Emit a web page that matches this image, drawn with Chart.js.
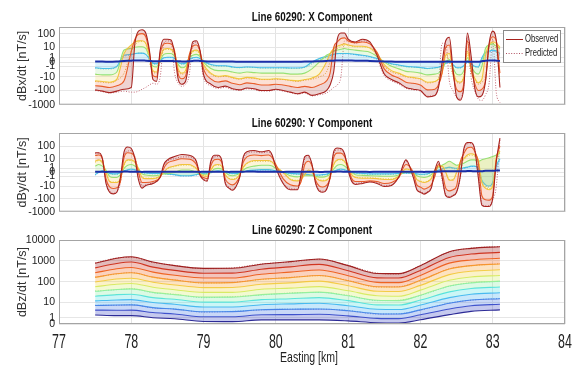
<!DOCTYPE html>
<html><head><meta charset="utf-8">
<script src="https://cdn.jsdelivr.net/npm/chart.js@4.4.0/dist/chart.umd.min.js"></script>
<style>
html,body{margin:0;padding:0;background:#fff;}
#wrap{position:relative;width:574px;height:368px;overflow:hidden;background:#fff;}
canvas{position:absolute;left:0;}
</style></head><body>
<div id="wrap">
<canvas id="c1" style="top:0px" width="574" height="115"></canvas>
<canvas id="c2" style="top:115px" width="574" height="107"></canvas>
<canvas id="c3" style="top:222px" width="574" height="146"></canvas>
</div>
<script>
// ---------- tick labels ----------
const xyTickValues = [100, 10, 1, 0, -1, -10, -100, -1000];
const xyTickLabels = ['100', '10', '1', '0', '-1', '-10', '-100', '-1000'];
const zTickValues = [10000, 1000, 100, 10, 1, 0];
const zTickLabels = ['10000', '1000', '100', '10', '1', '0'];
const eastingTicks = [77, 78, 79, 80, 81, 82, 83, 84];

// ---------- X component (nT/s), channels early -> late ----------
const eastingX = [
 77.5,77.6,77.7,77.8,77.9,78.0,78.05,78.1,78.15,78.2,
 78.25,78.3,78.35,78.4,78.45,78.5,78.55,78.6,78.65,78.7,
 78.75,78.8,78.85,78.9,78.95,79.0,79.1,79.2,79.3,79.4,
 79.5,79.6,79.7,79.8,79.9,80.0,80.1,80.2,80.3,80.4,
 80.5,80.6,80.7,80.75,80.8,80.85,80.9,80.95,81.0,81.1,
 81.2,81.3,81.4,81.5,81.6,81.7,81.8,81.9,82.0,82.1,
 82.2,82.25,82.3,82.35,82.4,82.45,82.5,82.55,82.6,82.65,
 82.7,82.75,82.8,82.85,82.9,82.95,83.0,83.05,83.1];
const dBxObsCh1 = [
 -90,-110,-140,-110,-80,-60,20,150,190,110,
 6,-16,-22,6,40,40,35,3,-16,-35,
 -22,0,25,31,6,-6.5,-35,-60,-48,-75,
 -90,-65,-75,-100,-100,-80,-100,-130,-170,-130,
 -220,-170,-100,-40,-4,40,110,110,40,25,
 40,25,2,-6,-16,-28,-60,-80,-100,-280,
 -225,-60,0,31,55,-2,-280,-480,-60,110,
 2,-60,-280,-225,-22,19,150,31,-60];
const dBxObsCh2 = [
 -45,-50,-60,-45,-20,5,40,90,100,60,
 4,-8,-10,3,18,20,18,5,-6,-14,
 -9,2,12,15,5,-2,-14,-24,-20,-30,
 -38,-28,-32,-40,-40,-35,-40,-50,-60,-50,
 -60,-40,-20,-5,10,25,45,50,30,22,
 25,18,4,-2,-7,-12,-25,-30,-40,-90,
 -80,-40,-5,10,15,-5,-80,-120,-30,30,
 -2,-30,-100,-80,-20,15,60,30,-5];
const dBxObsCh3 = [
 -20,-22,-25,-15,3,15,25,30,31,20,
 2,-3,-4,1,7,8,7,3,-2,-5,
 -3,1.5,5,6,3,-0.5,-5,-9,-8,-11,
 -14,-11,-12,-15,-15,-14,-15,-18,-20,-16,
 -12,-6,0,3,8,12,15,18,15,12,
 12,9,3,-0.5,-3,-5,-9,-11,-14,-25,
 -22,-15,-5,2,3,-3,-20,-25,-10,5,
 -2,-12,-28,-15,2,15,25,20,10];
const dBxObsCh4 = [
 -6,-7,-7,-4,6,8,10,11,11,8,
 1.5,-1,-1.2,0.5,2.5,3,3,1.5,-0.5,-1.5,
 -1,1,2,2.5,1.5,0,-1.8,-3,-3,-4,
 -5,-4,-4.5,-5,-5,-5,-5,-6,-6,-5,
 -2,0,2,3,5,6,7,8,7,6,
 5,4,1.5,0,-1,-2,-3.5,-4,-5,-7,
 -6,-5,-2.5,0,0.5,-1.5,-6,-7,-3,1,
 -1,-4,-6,-1,8,15,18,12,8];
const dBxObsCh5 = [
 -1.5,-1.8,-1.8,-1,2,2.5,3,3.3,3.3,2.5,
 0.8,-0.2,-0.3,0.3,1,1.2,1.2,0.8,0,-0.3,
 -0.2,0.5,1,1.2,0.8,0.2,-0.5,-0.8,-0.8,-1.2,
 -1.4,-1.2,-1.3,-1.5,-1.5,-1.5,-1.5,-1.6,-1.6,-1.2,
 0,0.8,1.5,2,2.5,3,3,3,3,2.5,
 2,1.5,0.8,0.1,-0.3,-0.6,-1,-1.2,-1.4,-1.8,
 -1.5,-1.3,-0.8,-0.2,0,-0.5,-1.5,-1.5,-0.8,0,
 -0.3,-1,-1.2,1,4,5,6,5,3];
const dBxObsCh6 = [
 0.1,0.1,0.05,0.1,0.2,0.25,0.3,0.3,0.3,0.25,
 0.2,0.15,0.15,0.15,0.2,0.2,0.2,0.15,0.15,0.1,
 0.1,0.15,0.2,0.25,0.2,0.15,0.1,0.1,0.1,0.1,
 0.05,0.05,0.05,0.05,0.05,0.05,0.05,0.05,0.05,0.1,
 0.1,0.15,0.2,0.25,0.25,0.3,0.3,0.3,0.3,0.25,
 0.25,0.2,0.15,0.1,0.1,0.05,0.05,0.05,0.05,0.05,
 0.05,0.05,0.05,0.1,0.1,0.05,0.05,0.05,0.05,0.1,
 0.05,0.05,0.05,0.15,0.25,0.3,0.3,0.25,0.2];
const dBxPredCh1 = [
 -100,-120,-150,-130,-110,-130,-130,-110,-80,-60,
 -40,-30,-35,-10,20,30,25,-5,-30,-50,
 -35,-8,15,25,3,-12,-45,-70,-60,-85,
 -100,-75,-85,-110,-110,-90,-110,-140,-180,-150,
 -240,-200,-150,-100,-60,-40,-10,30,30,20,
 30,20,1,-8,-20,-35,-70,-90,-110,-250,
 -200,-30,20,20,-20,-100,-300,-400,-40,60,
 -10,-100,-400,-500,-200,-30,40,-150,-700];
const dBxPredCh3 = [
 -22,-25,-28,-18,-5,5,15,25,28,18,
 0,-4,-5,0,6,7,6,2,-3,-6,
 -4,1,4,5,2,-1,-6,-10,-9,-12,
 -15,-12,-13,-16,-16,-15,-16,-19,-22,-18,
 -15,-10,-4,0,4,8,12,15,14,11,
 11,8,2,-1,-4,-6,-10,-12,-15,-28,
 -24,-12,-2,3,0,-8,-25,-30,-8,3,
 -5,-15,-35,-25,-10,8,20,5,-20];
const dBxPredCh5 = [
 -1.6,-2,-2,-1.2,1.5,2.2,2.8,3.2,3.2,2.4,
 0.6,-0.3,-0.4,0.2,0.9,1.1,1.1,0.7,-0.1,-0.4,
 -0.3,0.4,0.9,1.1,0.7,0.1,-0.6,-0.9,-0.9,-1.3,
 -1.5,-1.3,-1.4,-1.6,-1.6,-1.6,-1.6,-1.7,-1.7,-1.4,
 -0.3,0.5,1.2,1.8,2.3,2.8,2.9,2.9,2.8,2.3,
 1.8,1.3,0.6,0,-0.4,-0.7,-1.1,-1.3,-1.5,-1.9,
 -1.6,-1.4,-0.9,-0.3,-0.1,-0.6,-1.6,-1.6,-0.9,-0.1,
 -0.4,-1.1,-1.4,0.5,3,4,5,4,2];

// ---------- Y component (nT/s) ----------
const eastingY = [
 77.5,77.55,77.6,77.65,77.7,77.75,77.8,77.85,77.9,77.95,
 78.0,78.05,78.1,78.15,78.2,78.3,78.4,78.45,78.5,78.6,
 78.7,78.8,78.85,78.9,78.95,79.0,79.05,79.1,79.15,79.2,
 79.25,79.3,79.35,79.4,79.45,79.5,79.55,79.6,79.7,79.8,
 79.9,79.95,80.0,80.1,80.2,80.3,80.35,80.4,80.45,80.5,
 80.55,80.6,80.65,80.7,80.75,80.8,80.85,80.9,80.95,81.0,
 81.05,81.1,81.2,81.3,81.4,81.5,81.6,81.7,81.8,81.9,
 81.95,82.0,82.05,82.1,82.15,82.2,82.25,82.3,82.35,82.4,
 82.45,82.5,82.55,82.6,82.65,82.7,82.75,82.8,82.85,82.9,
 82.95,83.0,83.05,83.1];
const dByObsCh1 = [
 30,30,10,-6,-32,-43,-32,-1.3,36,85,
 65,10,-2.7,-15,-9,-6,-1.3,3,8,15,
 22,19,15,6,-0.6,-2.7,-3.7,6,19,19,
 8,-6,-15,-22,-11,-1.3,15,36,45,36,
 45,19,1.3,-6,-20,-20,-0.3,15,19,3,
 -6,-26,-32,-20,-1.3,36,70,65,25,0.4,
 -4,-7.5,-6,-4.5,-6,-11,-9,-1.3,8,-1.3,
 -20,-32,-45,-32,-15,0.4,6,-1.3,-60,-80,
 -60,-32,-1.3,60,190,190,60,-1.3,-315,-400,
 -400,-100,6,400];
const dByObsCh2 = [
 18,20,10,-2,-12,-16,-14,-4,12,30,
 28,12,0,-5,-5,-4,-1.5,1,4,7,
 10,9,7,3,-0.5,-1.5,-2,2,8,9,
 5,-2,-6,-8,-5,-1,5,14,20,18,
 20,12,3,-2,-8,-10,-4,3,6,2,
 -3,-10,-12,-9,-2,12,28,28,15,2,
 -2,-4,-4,-3.5,-4,-6,-5,-1.5,3,0,
 -8,-12,-18,-14,-8,-1,3,0,-15,-25,
 -20,-10,5,25,70,80,40,5,-60,-120,
 -130,-60,10,100];
const dByObsCh3 = [
 6,8,5,0,-4,-5,-5,-2,3,8,
 8,5,1,-1.5,-2,-2,-1,0,1,2,
 3,3,2,1,-0.3,-0.8,-1,0.5,2.5,3,
 2,-0.5,-2,-2.5,-2,-0.5,1.5,4,7,7,
 7,5,2,0,-2.5,-3.5,-2.5,-0.5,0.5,0,
 -1.5,-3,-3.5,-3,-1,3,8,9,6,1.5,
 -0.5,-1.5,-1.8,-1.8,-2,-2.5,-2.5,-1,0.8,0,
 -2.5,-4,-5,-4,-2,0.5,2,2,0,-3,
 -3,0,5,10,20,25,20,8,-5,-15,
 -20,-10,10,40];
const dByObsCh4 = [
 2,3,2,0.5,-1,-1.5,-1.5,-0.5,1,2.5,
 3,2,0.8,-0.3,-0.6,-0.8,-0.6,-0.3,-0.3,0,
 0.5,0.5,0.3,0,-0.3,-0.4,-0.4,0,0.8,1,
 0.8,0,-0.6,-0.8,-0.6,-0.2,0.5,1.2,2,2.5,
 2.5,2,1,0,-0.8,-1.2,-1,-0.8,-0.8,-0.8,
 -1,-1.3,-1.3,-1,-0.3,0.8,2.5,3,2,0.8,
 0,-0.5,-0.7,-0.8,-0.9,-1,-1,-0.6,0,-0.2,
 -0.8,-1.3,-1.5,-1.2,-0.5,0.5,1.5,2.5,4,6,
 4,2.5,3,4,6,8,8,6,8,10,
 12,15,20,30];
const dByObsCh5 = [
 -0.5,0,0.3,0.2,-0.2,-0.3,-0.3,0,0.3,0.6,
 0.8,0.6,0.3,0,-0.1,-0.2,-0.2,-0.2,-0.3,-0.5,
 -0.8,-0.8,-0.7,-0.5,-0.3,-0.2,-0.1,0,0.2,0.3,
 0.2,0,-0.1,-0.2,-0.2,-0.1,0.1,0.3,0.5,0.6,
 0.6,0.5,0.3,0,-0.2,-0.3,-0.3,-0.4,-0.5,-0.6,
 -0.6,-0.6,-0.5,-0.4,-0.1,0.2,0.6,0.8,0.6,0.3,
 0,-0.1,-0.2,-0.3,-0.3,-0.3,-0.3,-0.2,-0.1,-0.2,
 -0.3,-0.4,-0.4,-0.3,0,0.2,0.5,0.8,1.2,1.5,
 1.2,1,1,1.2,1.5,2,2,1,-3,-8,
 -10,-5,2,10];
const dByObsCh6 = [
 0.1,0.12,0.1,0.08,0.1,0.12,0.1,0.1,0.15,0.15,
 0.12,0.1,0.1,0.08,0.1,0.1,0.12,0.1,0.1,0.12,
 0.12,0.1,0.1,0.1,0.08,0.1,0.1,0.12,0.12,0.1,
 0.1,0.1,0.08,0.1,0.1,0.12,0.12,0.15,0.15,0.12,
 0.12,0.1,0.1,0.08,0.1,0.1,0.1,0.12,0.12,0.1,
 0.1,0.08,0.08,0.1,0.1,0.12,0.15,0.15,0.12,0.1,
 0.1,0.1,0.1,0.08,0.1,0.1,0.1,0.12,0.12,0.1,
 0.1,0.1,0.08,0.1,0.1,0.12,0.15,0.2,0.2,0.2,
 0.2,0.2,0.2,0.2,0.25,0.25,0.2,0.2,0.2,0.3,
 0.3,0.3,0.4,0.4];
const dByPredCh1 = [
 25,28,12,-3,-25,-38,-30,-5,20,40,
 45,15,0,-10,-8,-5,-1.5,2,6,10,
 14,14,11,5,0,-2,-3,4,14,15,
 7,-4,-12,-18,-10,-1.5,10,25,35,30,
 35,16,2,-5,-16,-18,-2,10,14,3,
 -5,-20,-26,-16,-2,25,50,50,22,1,
 -3,-6,-5,-4,-5,-9,-8,-1.5,6,-1,
 -16,-26,-38,-28,-12,0,4,-3,-45,-70,
 -55,-28,-2,45,150,160,55,0,-250,-350,
 -350,-120,-10,300];
const dByPredCh3 = [
 5,7,4,0,-3.5,-4.5,-4.5,-2,2.5,7,
 7,4.5,1,-1.3,-1.8,-1.8,-0.9,0,0.9,1.8,
 2.5,2.6,1.8,0.8,-0.3,-0.7,-0.9,0.4,2.2,2.6,
 1.8,-0.4,-1.8,-2.2,-1.8,-0.5,1.3,3.5,6,6,
 6,4.5,1.8,0,-2.2,-3,-2.2,-0.5,0.4,0,
 -1.3,-2.6,-3,-2.6,-0.9,2.6,7,8,5,1.3,
 -0.5,-1.3,-1.6,-1.6,-1.8,-2.2,-2.2,-0.9,0.7,0,
 -2.2,-3.5,-4.5,-3.5,-1.8,0.4,1.8,1.8,0,-2.5,
 -2.5,0,4,8,16,20,16,7,-4,-12,
 -16,-8,8,30];
const dByPredCh5 = [
 -0.6,-0.1,0.2,0.1,-0.3,-0.4,-0.4,-0.1,0.2,0.5,
 0.7,0.5,0.2,-0.1,-0.2,-0.3,-0.3,-0.3,-0.4,-0.6,
 -0.9,-0.9,-0.8,-0.6,-0.4,-0.3,-0.2,-0.1,0.1,0.2,
 0.1,-0.1,-0.2,-0.3,-0.3,-0.2,0,0.2,0.4,0.5,
 0.5,0.4,0.2,-0.1,-0.3,-0.4,-0.4,-0.5,-0.6,-0.7,
 -0.7,-0.7,-0.6,-0.5,-0.2,0.1,0.5,0.7,0.5,0.2,
 -0.1,-0.2,-0.3,-0.4,-0.4,-0.4,-0.4,-0.3,-0.2,-0.3,
 -0.4,-0.5,-0.5,-0.4,-0.1,0.1,0.4,0.7,1,1.3,
 1,0.8,0.8,1,1.3,1.8,1.8,0.5,-4,-10,
 -12,-6,1,8];

// ---------- Z component (nT/s) ----------
const eastingZ = [77.5,77.8,78.0,78.3,78.6,79.0,79.4,79.8,80.2,80.6,81.0,81.4,81.7,82.0,82.4,82.7,83.1];
const dBzObsCh1  = [775,1350,1580,890,600,445,450,700,930,1250,600,255,250,600,2750,3980,4790];
const dBzObsCh2  = [470,760,890,510,355,262,265,405,525,690,345,157,154,355,1480,2140,2570];
const dBzObsCh3  = [275,425,490,295,208,154,155,233,295,370,199,95,92,203,790,1120,1350];
const dBzObsCh4  = [165,245,275,170,122,90,92,134,161,203,114,58,57,119,415,600,723];
const dBzObsCh5  = [99,137,150,97,71,53,54,77,90,109,65,35,34,68,223,323,379];
const dBzObsCh6  = [58,77,84,55,42,31,31,44,50,59,37,21,20,40,119,173,203];
const dBzObsCh7  = [35,43,46,31,24,18,18,24,28,32,21,12.5,12,22.4,64,90,109];
const dBzObsCh8  = [20,24,25,17,14,10,10,13.5,15,17,12,7.1,7,12.8,33,48,57];
const dBzObsCh9  = [11.6,13,13.5,9.5,7.7,5.5,5.5,7.3,8.1,8.8,6.4,4,3.9,7,17,25,30];
const dBzObsCh10 = [6.6,7,7.1,5,4.1,2.8,2.9,3.8,4,4.2,3.3,2.1,2,3.7,8.8,13,15];
const dBzObsCh11 = [3.6,3.5,3.6,2.5,2.0,1.2,1.2,1.75,1.8,1.9,1.45,0.86,0.8,1.75,4.2,6.4,7.7];
const dBzObsCh12 = [1.7,1.5,1.5,1.0,0.78,0.32,0.3,0.58,0.58,0.58,0.41,0.15,0.12,0.58,1.8,3.0,3.7];
const dBzPredCh1  = [800,1400,1500,850,620,430,470,720,900,1200,620,265,240,620,2650,4100,4900];
const dBzPredCh4  = [170,240,280,165,125,88,95,130,165,198,118,56,59,115,425,590,740];
const dBzPredCh7  = [36,42,47,30,25,17,19,23,29,31,22,12,12.5,22,62,92,106];
const dBzPredCh10 = [6.8,6.8,7.3,4.8,4.2,2.7,3,3.7,4.1,4.1,3.4,2,2.1,3.6,9,12.6,15.5];

// ---------- helpers ----------
const T = v => Math.sign(v) * Math.log10(1 + Math.abs(v));
const pts = (xs, vs) => xs.map((x, i) => ({x: x, y: T(vs[i])}));
function rgba(hex, a) {
  const n = parseInt(hex.slice(1), 16);
  return 'rgba(' + ((n >> 16) & 255) + ',' + ((n >> 8) & 255) + ',' + (n & 255) + ',' + a + ')';
}
const SANS = '"Liberation Sans", Arial, sans-serif';

const xyColors = ['#a8231f', '#f0642c', '#f2cf3e', '#8fe37a', '#42bdf0', '#1b2fa8'];
const xyPredColors = ['#c46a78', '#d9aa3a', '#5a9ed8'];
const zColors = ['#9e1f1f', '#d83a22', '#f26a24', '#f7a133', '#f3d34a', '#d4ef6a',
                 '#8cf0a6', '#54e2e2', '#48b4f2', '#4b7fe6', '#3e4cc8', '#2c2a96'];
const zPredColors = ['#b85a5a', '#e0a050', '#70d0a0', '#6080d8'];

function buildSets(xs, obs, preds, colors, predColors, alpha, lastWidth) {
  const sets = [];
  const n = obs.length;
  obs.forEach((vals, k) => {
    sets.push({
      data: pts(xs, vals),
      borderColor: colors[k],
      backgroundColor: rgba(colors[k], alpha),
      borderWidth: k === n - 1 ? lastWidth : 1.1,
      fill: k < n - 1 ? k + 1 : false,
      order: k === n - 1 ? 1 : (k === 0 ? 2 : 3)
    });
  });
  preds.forEach((vals, j) => {
    sets.push({
      data: pts(xs, vals),
      borderColor: predColors[j],
      backgroundColor: 'rgba(0,0,0,0)',
      borderWidth: 1,
      borderDash: [1, 1.6],
      fill: false,
      order: 5
    });
  });
  return sets;
}

// text squeezed horizontally, like the condensed lettering of the figure
function squeezed(ctx, text, x, y, font, sx, align) {
  ctx.save();
  ctx.font = font;
  ctx.textAlign = align;
  ctx.textBaseline = 'middle';
  ctx.translate(x, y);
  ctx.scale(sx, 1);
  ctx.fillText(text, 0, 0);
  ctx.restore();
}

const deco = {
  id: 'panelDeco',
  afterDraw(chart, args, o) {
    const ctx = chart.ctx, a = chart.chartArea;
    ctx.save();
    ctx.strokeStyle = '#a4a4a4';
    ctx.lineWidth = 1;
    ctx.strokeRect(a.left + 0.5, a.top + 0.5, a.right - a.left - 1, a.bottom - a.top - 1);
    ctx.fillStyle = '#111';
    squeezed(ctx, o.title, (a.left + a.right) / 2, a.top - 9, 'bold 12.5px ' + SANS, 0.79, 'center');
    if (o.legend) {
      const bx = 503, by = 30, bw = 57, bh = 32;
      ctx.fillStyle = '#fff';
      ctx.fillRect(bx, by, bw, bh);
      ctx.strokeStyle = '#8a8a8a';
      ctx.strokeRect(bx + 0.5, by + 0.5, bw, bh);
      ctx.lineWidth = 1;
      ctx.strokeStyle = '#a8231f';
      ctx.beginPath(); ctx.moveTo(506, 39.5); ctx.lineTo(523, 39.5); ctx.stroke();
      ctx.strokeStyle = '#b05060';
      ctx.setLineDash([1, 1.6]);
      ctx.beginPath(); ctx.moveTo(506, 53.5); ctx.lineTo(523, 53.5); ctx.stroke();
      ctx.setLineDash([]);
      ctx.fillStyle = '#222';
      squeezed(ctx, 'Observed', 525, 39.5, '10.5px ' + SANS, 0.73, 'left');
      squeezed(ctx, 'Predicted', 525, 53.5, '10.5px ' + SANS, 0.73, 'left');
    }
    if (o.showX) {
      const xs = chart.scales.x;
      ctx.fillStyle = '#222';
      eastingTicks.forEach(v => {
        squeezed(ctx, String(v), xs.getPixelForValue(v), a.bottom + 18, '20px ' + SANS, 0.62, 'center');
      });
      squeezed(ctx, 'Easting [km]', (a.left + a.right) / 2 - 3, a.bottom + 34, '15px ' + SANS, 0.7, 'center');
    }
    ctx.restore();
  }
};

function panel(id, cfg) {
  return new Chart(document.getElementById(id), {
    type: 'line',
    data: {datasets: cfg.datasets},
    options: {
      responsive: false,
      animation: false,
      events: [],
      layout: {padding: {top: cfg.padTop, bottom: cfg.padBottom, left: 0, right: 9}},
      elements: {point: {radius: 0}, line: {cubicInterpolationMode: 'monotone'}},
      plugins: {
        legend: {display: false},
        tooltip: {enabled: false},
        panelDeco: {title: cfg.title, legend: cfg.legend, showX: cfg.showX}
      },
      scales: {
        x: {
          type: 'linear', min: eastingTicks[0], max: eastingTicks[eastingTicks.length - 1],
          grid: {color: '#e3e3e3', drawTicks: false},
          border: {display: false},
          ticks: {display: false, stepSize: 1, autoSkip: false},
          afterFit: s => { s.height = cfg.showX ? 44 : 0; }
        },
        y: {
          type: 'linear', min: cfg.yMin, max: cfg.yMax,
          afterBuildTicks: s => { s.ticks = cfg.tickValues.map(v => ({value: T(v)})); },
          grid: {color: '#e6e6e6', drawTicks: false},
          border: {display: false},
          ticks: {autoSkip: false, padding: 4, color: '#222',
                  font: {family: SANS, size: 10.5},
                  callback: (v, i) => cfg.tickLabels[i]},
          title: {display: true, text: cfg.yTitle, color: '#333',
                  font: {family: SANS, size: 12.5}, padding: {top: 15, bottom: 0}},
          afterFit: s => { s.width = 59; }
        }
      }
    },
    plugins: [deco]
  });
}

panel('c1', {
  title: 'Line 60290: X Component', yTitle: 'dBx/dt [nT/s]', legend: true,
  yMin: T(-1000), yMax: 2.47, tickValues: xyTickValues, tickLabels: xyTickLabels,
  padTop: 27, padBottom: 5, showX: false,
  datasets: buildSets(eastingX,
    [dBxObsCh1, dBxObsCh2, dBxObsCh3, dBxObsCh4, dBxObsCh5, dBxObsCh6],
    [dBxPredCh1, dBxPredCh3, dBxPredCh5], xyColors, xyPredColors, 0.2, 2)
});
panel('c2', {
  title: 'Line 60290: Y Component', yTitle: 'dBy/dt [nT/s]', legend: false,
  yMin: T(-1000), yMax: 3.0, tickValues: xyTickValues, tickLabels: xyTickLabels,
  padTop: 18, padBottom: 5, showX: false,
  datasets: buildSets(eastingY,
    [dByObsCh1, dByObsCh2, dByObsCh3, dByObsCh4, dByObsCh5, dByObsCh6],
    [dByPredCh1, dByPredCh3, dByPredCh5], xyColors, xyPredColors, 0.2, 2)
});
panel('c3', {
  title: 'Line 60290: Z Component', yTitle: 'dBz/dt [nT/s]', legend: false,
  yMin: 0, yMax: T(10000), tickValues: zTickValues, tickLabels: zTickLabels,
  padTop: 18, padBottom: 0, showX: true,
  datasets: buildSets(eastingZ,
    [dBzObsCh1, dBzObsCh2, dBzObsCh3, dBzObsCh4, dBzObsCh5, dBzObsCh6,
     dBzObsCh7, dBzObsCh8, dBzObsCh9, dBzObsCh10, dBzObsCh11, dBzObsCh12],
    [dBzPredCh1, dBzPredCh4, dBzPredCh7, dBzPredCh10], zColors, zPredColors, 0.3, 1.1)
});
</script>
</body></html>
